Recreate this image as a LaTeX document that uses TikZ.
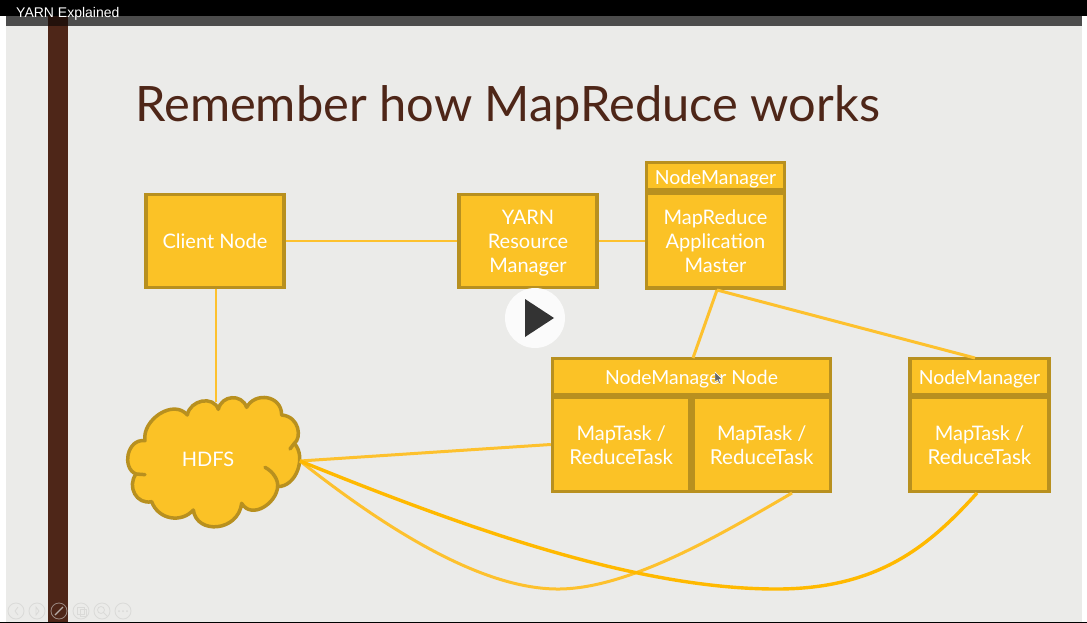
\documentclass[tikz,border=0pt]{standalone}
\usepackage{fontspec}
\setmainfont{Lato}
\newfontfamily\uifont{Liberation Sans}
\definecolor{bg}{HTML}{EBEBE9}
\definecolor{gold}{HTML}{FBC226}
\definecolor{edge}{HTML}{B8901F}
\definecolor{brownbar}{HTML}{4E2618}
\definecolor{wire}{HTML}{FDC12E}
\definecolor{wiredeep}{HTML}{FFB900}
\definecolor{ctl}{HTML}{DADAD8}
\tikzset{
  x=1pt,y=-1pt,
  box/.style={draw=edge,fill=gold,line width=3.6pt,text=white,align=center,inner sep=0pt,font=\fontsize{20}{24}\selectfont},
  conn/.style={wire,line width=3pt},
  thin conn/.style={wire,line width=2pt},
  ctlbtn/.style={circle,draw=ctl,line width=0.8pt,minimum size=16pt,inner sep=0pt},
}
\newcommand{\boxat}[6]{\node[box,minimum width=#4 pt,minimum height=#5 pt] (#1) at (#2,#3) {\raisebox{-8.3pt}[0pt][0pt]{\begin{tabular}{@{}c@{}}#6\end{tabular}}};}
\newcommand{\nmfont}{\fontsize{19.4}{24}\selectfont}
\newcommand{\rtfont}{\fontsize{20.6}{24}\selectfont}
\begin{document}
\begin{tikzpicture}
\useasboundingbox (0,0) rectangle (1087,623);
\fill[white] (0,0) rectangle (1087,623);
\fill[bg] (6,16) rectangle (1082,622);
\fill[black] (0,0) rectangle (1087,16);
\fill[black!70] (6,16) rectangle (1082,26);
\fill[brownbar] (48,26) rectangle (68,622);
\fill[brownbar!45!black] (48,16) rectangle (68,26);
\fill[black] (0,622) rectangle (1087,623);
\node[anchor=west,text=white,inner sep=0pt,font=\uifont\fontsize{14}{16}\selectfont] (win) at (16,14) {YARN Explained};
\node[anchor=west,text=brownbar,inner sep=0pt,font=\fontsize{48.8}{58}\selectfont] (title) at (135,107.5) {Remember how MapReduce works};

% connectors
\coordinate (amfoot) at (717,290);
\coordinate (nmtop) at (693,358);
\coordinate (nm2top) at (975,358);
\coordinate (hdfstop) at (216,402);
\coordinate (clientfoot) at (216,288);
\coordinate (hout) at (300,461);
\coordinate (t2foot) at (792,493);
\coordinate (t3foot) at (977,493);

\draw[thin conn] (clientfoot) -- (hdfstop);

% boxes
\boxat{client}{215}{241}{137.8}{92.8}{Client Node}
\boxat{rm}{528}{241}{137.8}{92.8}{YARN\\Resource\\Manager}
\boxat{nmtopbox}{715.5}{176.25}{137.8}{27.3}{\nmfont NodeManager}
\boxat{am}{715.5}{240.5}{137.8}{94.8}{MapReduce\\Application\\Master}
\boxat{nmhead}{691.5}{376.5}{277.8}{35.8}{\nmfont NodeManager Node}
\boxat{t1}{621.25}{444.5}{137.3}{93.8}{MapTask /\\\rtfont ReduceTask}
\boxat{t2}{761.75}{444.5}{137.3}{93.8}{MapTask /\\\rtfont ReduceTask}
\boxat{nm2}{979.5}{376.5}{138.8}{35.8}{\nmfont NodeManager}
\boxat{t3}{979.5}{444.5}{138.8}{93.8}{MapTask /\\\rtfont ReduceTask}

% cloud
\begin{scope}[shift={(110,380)},x=0.3333pt,y=-0.3333pt]
\draw[edge,fill=gold,line width=3.5pt,line join=round]
 (105,182) .. controls (95,120) and (190,55) .. (232,105)
 .. controls (240,60) and (310,45) .. (325,88)
 .. controls (335,45) and (395,40) .. (410,82)
 .. controls (435,35) and (515,45) .. (515,105)
 .. controls (570,110) and (575,175) .. (553,190)
 .. controls (590,230) and (560,320) .. (503,320)
 .. controls (500,370) and (425,420) .. (395,370)
 .. controls (385,455) and (260,465) .. (250,390)
 .. controls (215,430) and (145,420) .. (125,365)
 .. controls (80,375) and (50,320) .. (78,282)
 .. controls (35,265) and (50,175) .. (105,182) -- cycle;
\draw[edge,line width=3.5pt,line cap=round] (503,320) .. controls (505,300) and (490,275) .. (465,262);
\draw[edge,line width=3.5pt,line cap=round] (553,190) -- (540,207);
\draw[edge,line width=3.5pt,line cap=round] (78,282) -- (105,284);
\end{scope}
\node[text=white,inner sep=0pt,font=\fontsize{20}{24}\selectfont] (hdfs) at (208,459) {HDFS};

\draw[thin conn] (client.east) -- (rm.west);
\draw[thin conn] (rm.east) -- (rm.east -| am.west);
\draw[conn] (amfoot) -- (nmtop);
\draw[conn] (amfoot) -- (nm2top);
\draw[conn] (hout) -- (t1.west);
\draw[conn] (hout) .. controls (400,540) and (490,590) .. (560,589) .. controls (630,588) and (720,535) .. (t2foot);
\draw[wiredeep,line width=3.4pt] (hout) .. controls (470,530) and (640,590) .. (780,589) .. controls (880,588) and (930,545) .. (t3foot);

% play button
\node[circle,fill=white!80!bg,minimum size=60pt,inner sep=0pt] (play) at (535,318) {};
\fill[black!80] (525,299) -- (554,318) -- (525,337) -- cycle;

% mouse pointer
\fill[black!60,draw=white,line width=0.4pt] (715,372) -- (715,382) -- (717.5,380) -- (719,383.5) -- (720.5,383) -- (719,379.5) -- (722,379) -- cycle;

% slide controls
\foreach \n/\cx in {a/16,b/37,d/81,e/102,f/123}{
  \node[ctlbtn] (btn\n) at (\cx,611) {};
}
\node[ctlbtn,draw=brownbar!45!ctl] (btnc) at (59,611) {};
\draw[ctl,line width=0.8pt] (18,607) -- (15,611) -- (18,615);
\draw[ctl,line width=0.8pt] (36,607) -- (39,611) -- (36,615) -- cycle;
\draw[brownbar!25!ctl,line width=1.2pt] (55,615) -- (63,607);
\draw[ctl,line width=0.8pt] (77,607) rectangle (84,614);
\draw[ctl,line width=0.8pt] (80,609) rectangle (86,616);
\draw[ctl,line width=0.8pt] (101,610) circle (3.5pt);
\draw[ctl,line width=1pt] (104,613) -- (107,616);
\fill[ctl] (119,611) circle (1pt) (123,611) circle (1pt) (127,611) circle (1pt);
\end{tikzpicture}
\end{document}
